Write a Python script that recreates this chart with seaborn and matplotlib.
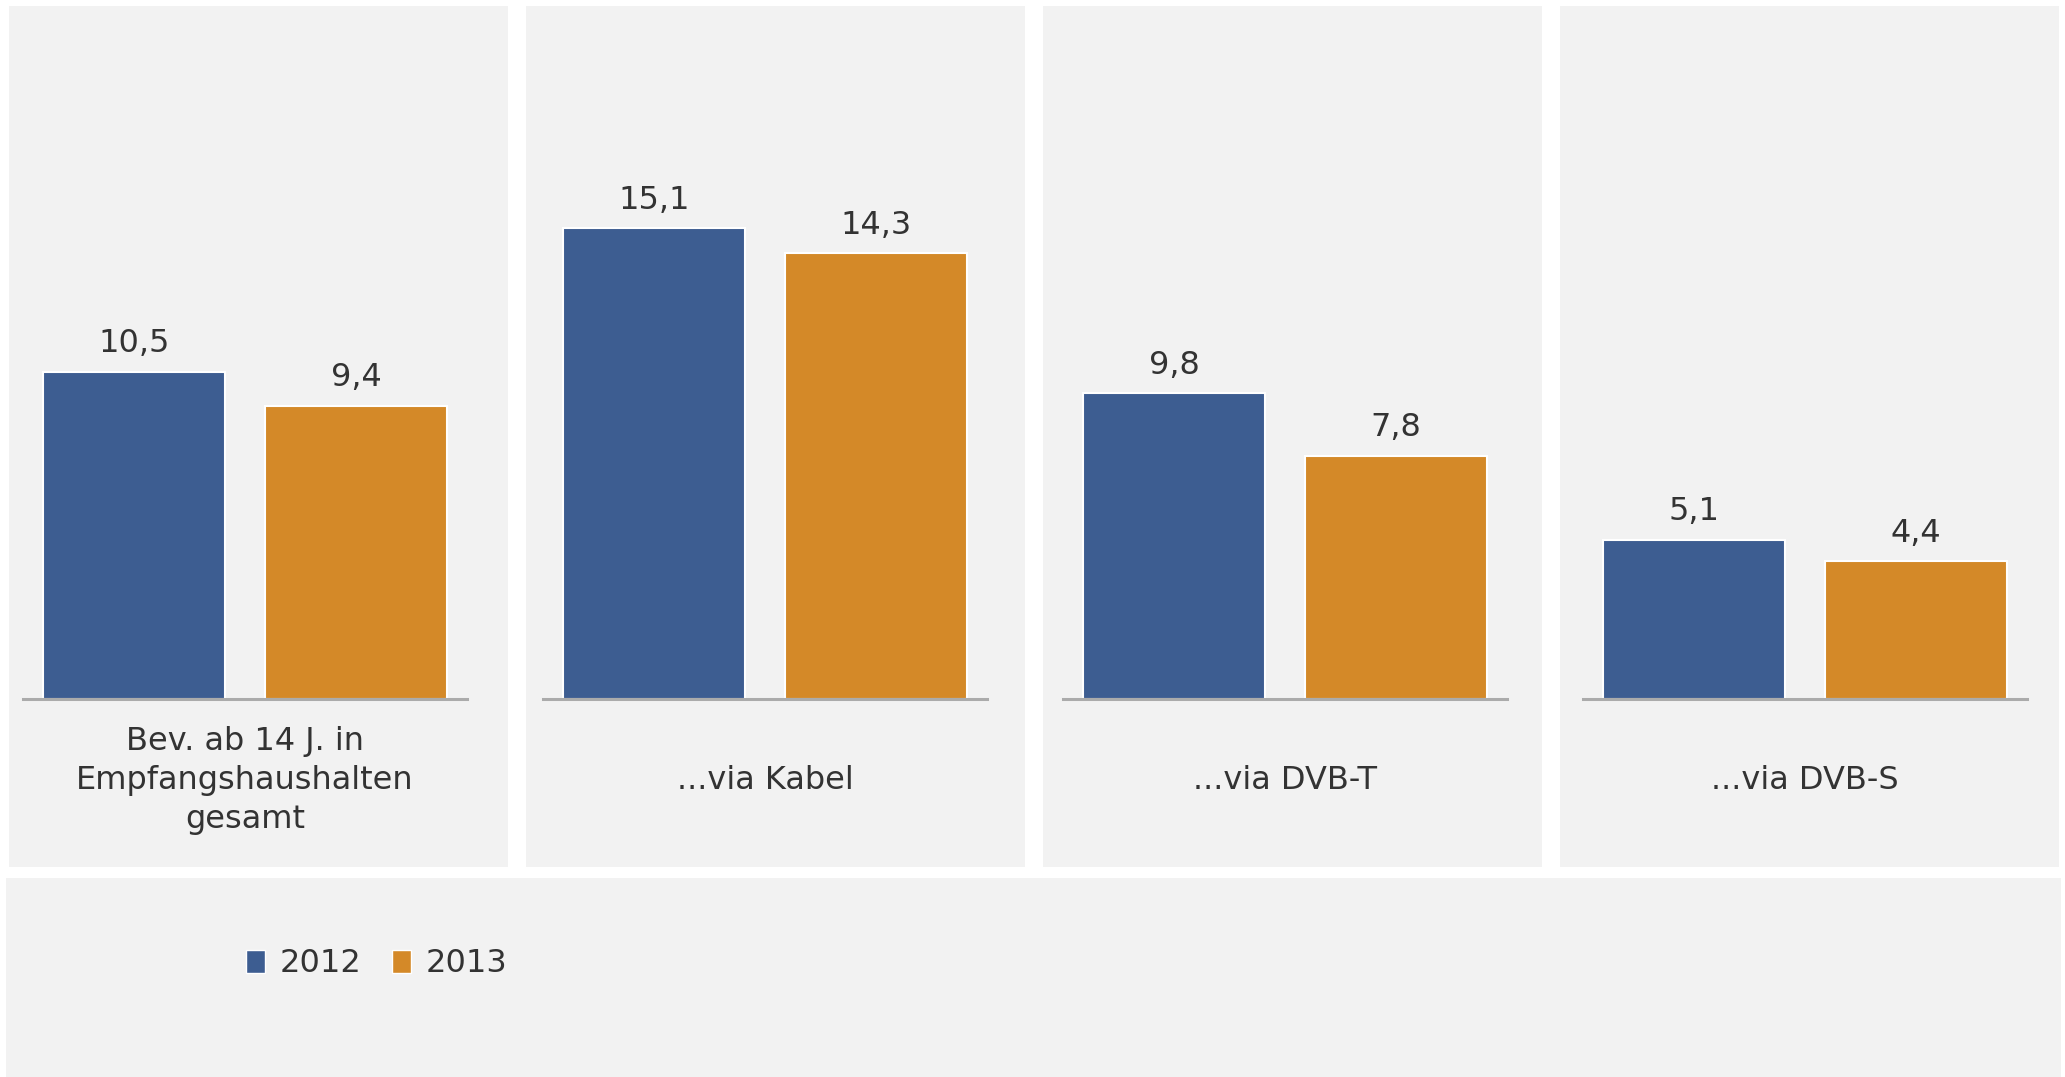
import pandas as pd
import seaborn as sns
import matplotlib.pyplot as plt
from matplotlib.patches import Patch, Rectangle


categories = [
    "Bev. ab 14 J. in\nEmpfangshaushalten\ngesamt",
    "...via Kabel",
    "...via DVB-T",
    "...via DVB-S",
]
years = ["2012", "2013"]
values_2012 = [10.5, 15.1, 9.8, 5.1]
values_2013 = [9.4, 14.3, 7.8, 4.4]

colors = {"2012": "#3D5D91", "2013": "#D48928"}
TEXT = "#333333"
PANEL = "#F2F2F2"
FS = 23

W, H = 2065, 1077


def fx(px):
    return px / W


def fy(py):
    return 1 - py / H


def main() -> None:
    sns.set_style("white")
    plt.rcParams["font.family"] = ["DejaVu Sans"]

    df = pd.DataFrame({
        "category": categories * 2,
        "year": [years[0]] * len(categories) + [years[1]] * len(categories),
        "value": values_2012 + values_2013,
    })

    fig = plt.figure(figsize=(W / 100, H / 100), dpi=100)
    fig.patch.set_facecolor("white")

    # grey panels behind each chart + legend strip
    panel_lefts = [9, 526, 1043, 1560]
    for left in panel_lefts:
        fig.patches.append(Rectangle((fx(left), fy(867)), fx(499), (867 - 6) / H,
                                     transform=fig.transFigure, facecolor=PANEL,
                                     edgecolor="none", zorder=-10))
    fig.patches.append(Rectangle((fx(6), 0), fx(2055), (1077 - 878) / H,
                                 transform=fig.transFigure, facecolor=PANEL,
                                 edgecolor="none", zorder=-10))

    axes_lefts = [23, 543, 1063, 1583]
    base_y, top_y, ax_w = 698.5, 60.5, 444
    ymax = (base_y - top_y) / 31.14

    for cat, left in zip(categories, axes_lefts):
        ax = fig.add_axes([fx(left), fy(base_y), fx(ax_w), (base_y - top_y) / H])
        ax.set_facecolor("none")
        ax.patch.set_alpha(0)
        sub = df[df["category"] == cat]
        sns.barplot(data=sub, x="category", y="value", hue="year", hue_order=years,
                    palette=colors, saturation=1, width=1.0, gap=0.18,
                    edgecolor="white", linewidth=1.5, legend=False, ax=ax)
        for cont in ax.containers:
            labels = [f"{v:.1f}".replace(".", ",") for v in cont.datavalues]
            ax.bar_label(cont, labels=labels, padding=9, fontsize=FS, color=TEXT)
        ax.set_xlim(-0.5, 0.5)
        ax.set_ylim(0, ymax)
        ax.set_xlabel("")
        ax.set_ylabel("")
        ax.set_yticks([])
        for s in ["top", "left", "right"]:
            ax.spines[s].set_visible(False)
        ax.spines["bottom"].set_color("#ABABAB")
        ax.spines["bottom"].set_linewidth(2.2)
        ax.tick_params(axis="x", length=0, pad=59, labelsize=FS, labelcolor=TEXT)
        for lbl in ax.get_xticklabels():
            lbl.set_verticalalignment("center")
            lbl.set_linespacing(1.33)

    handles = [Patch(facecolor=colors[y], label=y) for y in years]
    fig.legend(handles=handles, loc="center left", bbox_to_anchor=(fx(246), fy(964)),
               ncol=2, frameon=False, fontsize=FS, labelcolor=TEXT,
               handlelength=0.6, handleheight=0.72, handletextpad=0.45,
               columnspacing=0.95, borderpad=0, borderaxespad=0)

    fig.savefig("out.png", dpi=100)
    plt.close(fig)


if __name__ == "__main__":
    main()
